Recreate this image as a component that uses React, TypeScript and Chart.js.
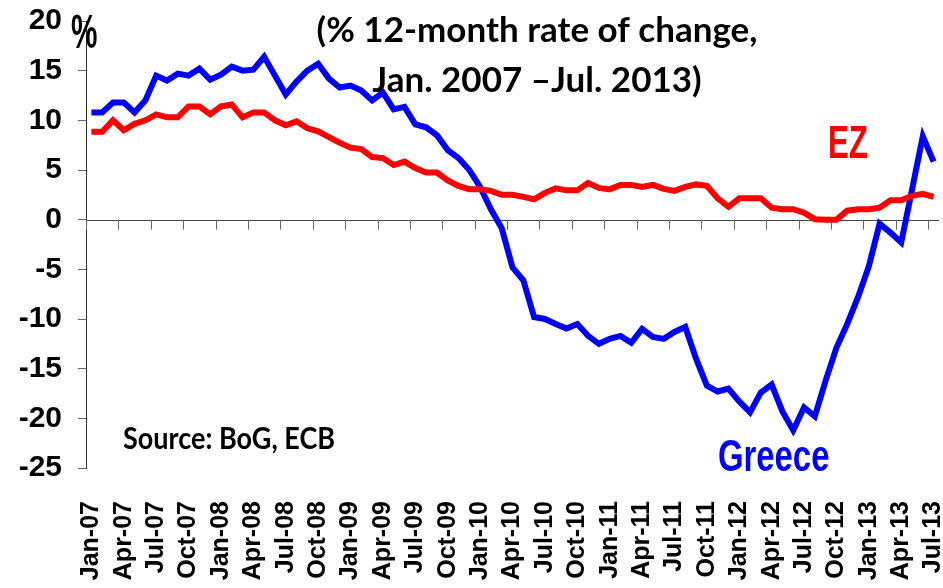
import React, { useEffect, useRef } from "react";
import { Chart, registerables } from "chart.js";

Chart.register(...registerables);

const months = [
  "Jan-07","Feb-07","Mar-07","Apr-07","May-07","Jun-07","Jul-07","Aug-07","Sep-07","Oct-07","Nov-07","Dec-07",
  "Jan-08","Feb-08","Mar-08","Apr-08","May-08","Jun-08","Jul-08","Aug-08","Sep-08","Oct-08","Nov-08","Dec-08",
  "Jan-09","Feb-09","Mar-09","Apr-09","May-09","Jun-09","Jul-09","Aug-09","Sep-09","Oct-09","Nov-09","Dec-09",
  "Jan-10","Feb-10","Mar-10","Apr-10","May-10","Jun-10","Jul-10","Aug-10","Sep-10","Oct-10","Nov-10","Dec-10",
  "Jan-11","Feb-11","Mar-11","Apr-11","May-11","Jun-11","Jul-11","Aug-11","Sep-11","Oct-11","Nov-11","Dec-11",
  "Jan-12","Feb-12","Mar-12","Apr-12","May-12","Jun-12","Jul-12","Aug-12","Sep-12","Oct-12","Nov-12","Dec-12",
  "Jan-13","Feb-13","Mar-13","Apr-13","May-13","Jun-13","Jul-13",
];

const greece = [
  10.8, 10.8, 11.8, 11.8, 10.8, 12.0, 14.5, 14.0, 14.7, 14.5, 15.2, 14.1,
  14.6, 15.4, 15.0, 15.1, 16.4, 14.5, 12.6, 13.9, 15.0, 15.7, 14.2, 13.3,
  13.5, 13.0, 12.0, 12.8, 11.1, 11.35, 9.6, 9.3, 8.5, 7.0, 6.2, 5.0,
  3.3, 1.05, -0.85, -4.8, -6.1, -9.8, -10.0, -10.5, -10.95, -10.5, -11.7, -12.5,
  -12.0, -11.7, -12.4, -11.0, -11.8, -12.0, -11.3, -10.8, -14.0, -16.7, -17.3, -17.0,
  -18.3, -19.4, -17.4, -16.6, -19.3, -21.2, -18.9, -19.8, -16.2, -12.9, -10.5, -7.8,
  -4.7, -0.4, -1.3, -2.3, 3.0, 8.4, 5.85,
];

const ez = [
  8.85, 8.85, 10.0, 9.0, 9.65, 10.0, 10.6, 10.3, 10.3, 11.4, 11.4, 10.6,
  11.4, 11.6, 10.3, 10.8, 10.8, 10.0, 9.5, 9.9, 9.2, 8.9, 8.3, 7.75,
  7.25, 7.1, 6.3, 6.2, 5.5, 5.85, 5.2, 4.75, 4.75, 3.95, 3.4, 3.05,
  3.05, 2.9, 2.5, 2.5, 2.3, 2.05, 2.7, 3.15, 2.95, 2.95, 3.7, 3.2,
  3.05, 3.5, 3.5, 3.3, 3.5, 3.1, 2.9, 3.3, 3.55, 3.4, 2.15, 1.3,
  2.15, 2.15, 2.15, 1.2, 1.05, 1.05, 0.7, 0.05, 0.0, 0.0, 0.9, 1.05,
  1.05, 1.2, 1.95, 1.95, 2.4, 2.6, 2.3,
];

const yMin = -25;
const yMax = 20;
const yStep = 5;
const labelEvery = 3;

const titleLines = ["(% 12-month rate of change,", "Jan. 2007 \u2013Jul. 2013)"];
const sourceText = "Source: BoG, ECB";
const greeceLabel = "Greece";
const ezLabel = "EZ";
const unitLabel = "%";

const SANS = '"Liberation Sans", Arial, sans-serif';
const CAL = 'Lato, "Open Sans", sans-serif';

function drawScaled(ctx: any, text: string, x: number, y: number, font: string, color: string, sx: number, sy: number) {
  ctx.save();
  ctx.translate(x, y);
  ctx.scale(sx, sy);
  ctx.font = font;
  ctx.fillStyle = color;
  ctx.textAlign = "left";
  ctx.textBaseline = "alphabetic";
  ctx.fillText(text, 0, 0);
  ctx.restore();
}

const overlayPlugin = {
  id: "overlay",
  beforeDatasetsDraw(chart: any) {
    const { ctx, chartArea, scales } = chart;
    const x = scales.x;
    const y = scales.y;
    const y0 = y.getPixelForValue(0);
    ctx.save();
    ctx.strokeStyle = "#444";
    ctx.lineWidth = 1;
    ctx.beginPath();
    ctx.moveTo(chartArea.left, Math.round(y0) + 0.5);
    ctx.lineTo(chartArea.right, Math.round(y0) + 0.5);
    ctx.stroke();
    const step = x.getPixelForValue(1) - x.getPixelForValue(0);
    ctx.strokeStyle = "#666";
    for (let i = 0; i < months.length; i += labelEvery) {
      const px = Math.round(x.getPixelForValue(i) - step / 2) + 0.5;
      ctx.beginPath();
      ctx.moveTo(px, y0);
      ctx.lineTo(px, y0 + 10);
      ctx.stroke();
    }
    ctx.restore();
  },
  afterDraw(chart: any) {
    const { ctx } = chart;
    ctx.save();
    ctx.fillStyle = "#000";
    ctx.textAlign = "center";
    ctx.textBaseline = "alphabetic";
    ctx.font = `bold 35px ${CAL}`;
    ctx.fillText(titleLines[0], 537, 42);
    ctx.fillText(titleLines[1], 537, 92);
    ctx.restore();
    drawScaled(ctx, sourceText, 123, 449, `bold 27px ${CAL}`, "#000", 1, 1.1);
    drawScaled(ctx, unitLabel, 71, 48, `bold 48px ${SANS}`, "#000", 0.62, 1);
    drawScaled(ctx, ezLabel, 828, 158, `bold 46px ${SANS}`, "#ff0000", 0.68, 1);
    drawScaled(ctx, greeceLabel, 718, 471, `bold 45px ${SANS}`, "#0000ff", 0.73, 1);
  },
};

export default function App() {
  const ref = useRef<HTMLCanvasElement | null>(null);
  useEffect(() => {
    if (!ref.current) return;
    const chart = new Chart(ref.current, {
      type: "line",
      data: {
        labels: months,
        datasets: [
          {
            label: "EZ",
            data: ez,
            borderColor: "#ff0000",
            backgroundColor: "#ff0000",
            borderWidth: 6,
            pointRadius: 0,
            tension: 0,
          },
          {
            label: "Greece",
            data: greece,
            borderColor: "#0000ff",
            backgroundColor: "#0000ff",
            borderWidth: 6,
            pointRadius: 0,
            tension: 0,
          },
        ],
      },
      plugins: [overlayPlugin],
      options: {
        animation: false,
        responsive: false,
        devicePixelRatio: 1,
        layout: { padding: { top: 21, right: 4, left: 0, bottom: 0 } },
        plugins: {
          legend: { display: false },
          tooltip: { enabled: false },
          title: { display: false },
        },
        scales: {
          x: {
            type: "category",
            offset: true,
            grid: { display: false, offset: true },
            border: { display: false },
            ticks: {
              autoSkip: false,
              maxRotation: 90,
              minRotation: 90,
              padding: 25,
              color: "#000",
              font: { family: SANS, size: 25, weight: "bold" },
              callback: (_v: any, i: number) => (i % labelEvery === 0 ? months[i] : ""),
            },
            afterFit: (s: any) => {
              s.height = 120;
              s.paddingLeft = 0;
              s.paddingRight = 0;
            },
          },
          y: {
            min: yMin,
            max: yMax,
            grid: { drawOnChartArea: false, drawTicks: true, tickLength: 8, color: "#666" },
            border: { display: true, color: "#333", width: 1 },
            ticks: {
              stepSize: yStep,
              padding: 16,
              color: "#000",
              font: { family: SANS, size: 30, weight: "bold" },
            },
            afterFit: (s: any) => {
              s.width = 86;
              s.paddingTop = 0;
              s.paddingBottom = 0;
            },
          },
        },
      },
    });
    return () => chart.destroy();
  }, []);
  return (
    <div style={{ position: "absolute", left: 0, top: 0, width: 943, height: 588, background: "#fff" }}>
      <canvas ref={ref} width={943} height={588} />
    </div>
  );
}
